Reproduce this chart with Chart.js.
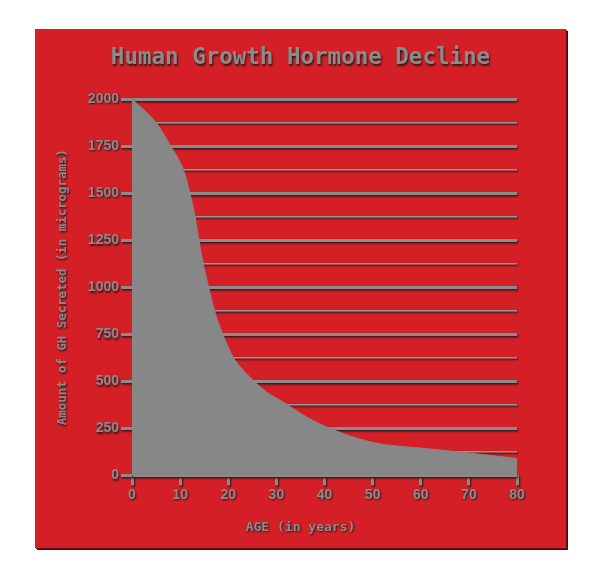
<!DOCTYPE html>
<html>
<head>
<meta charset="utf-8">
<script src="https://cdn.jsdelivr.net/npm/chart.js@4.4.0/dist/chart.umd.min.js"></script>
<style>
  html, body { margin: 0; padding: 0; background: #ffffff; }
  #panel {
    position: absolute; left: 35px; top: 29px; width: 531px; height: 519px;
    background: #d51f26;
    box-shadow: 1px 1px 0 #6a1015, 2px 2px 0 #4a0c10;
  }
  #panel canvas { display: block; }
</style>
</head>
<body>
<div id="panel"><canvas id="c" width="531" height="519"></canvas></div>
<script>
const titleText = "Human Growth Hormone Decline";
const xTitle = "AGE (in years)";
const yTitle = "Amount of GH Secreted (in micrograms)";
const ages = [0, 5.1, 8.1, 10.7, 12.05, 13.1, 13.9, 14.8, 15.9, 17.1, 18.8, 21, 23, 25.2, 28, 31.4, 35.5, 40, 50, 60, 70, 80];
const ghValues = [2000, 1871, 1747, 1622, 1498, 1374, 1250, 1126, 1002, 878, 754, 629, 562, 505, 442, 390, 322, 262, 175, 145, 119, 90];
const xTicks = [0, 10, 20, 30, 40, 50, 60, 70, 80];
const yTicks = [0, 250, 500, 750, 1000, 1250, 1500, 1750, 2000];

const gray = '#8b8b8b';
const points = ages.map((a, i) => ({ x: a, y: ghValues[i] }));

function setShadow(ctx, on) {
  if (on) {
    ctx.shadowColor = 'rgba(35,25,25,0.95)';
    ctx.shadowBlur = 2;
    ctx.shadowOffsetX = 1;
    ctx.shadowOffsetY = 1.5;
  } else {
    ctx.shadowColor = 'rgba(0,0,0,0)';
    ctx.shadowBlur = 0;
    ctx.shadowOffsetX = 0;
    ctx.shadowOffsetY = 0;
  }
}
const shadowPlugin = {
  id: 'shadowPlugin',
  beforeDraw(chart) { setShadow(chart.ctx, true); },
  beforeDatasetsDraw(chart) { setShadow(chart.ctx, false); },
  afterDatasetsDraw(chart) { setShadow(chart.ctx, true); },
  afterDraw(chart) { setShadow(chart.ctx, false); }
};

new Chart(document.getElementById('c'), {
  type: 'line',
  data: {
    datasets: [{
      data: points,
      fill: 'origin',
      backgroundColor: '#878787',
      borderColor: '#878787',
      borderWidth: 1,
      pointRadius: 0,
      cubicInterpolationMode: 'monotone'
    }]
  },
  plugins: [shadowPlugin],
  options: {
    responsive: false,
    animation: false,
    layout: { padding: 0 },
    plugins: {
      legend: { display: false },
      tooltip: { enabled: false },
      title: {
        display: true,
        text: titleText,
        color: gray,
        font: { family: "'DejaVu Sans Mono', monospace", size: 22.5, weight: 'bold' },
        padding: { top: 16, bottom: 27 }
      },
      subtitle: {
        display: true,
        position: 'bottom',
        text: xTitle,
        color: gray,
        font: { family: "'DejaVu Sans Mono', monospace", size: 13, weight: 'bold' },
        padding: { top: 8, bottom: 13 }
      }
    },
    scales: {
      x: {
        type: 'linear',
        min: 0, max: 80,
        afterBuildTicks(scale) { scale.ticks = xTicks.map(v => ({ value: v })); },
        afterFit(scale) { scale.height = 36; },
        grid: {
          display: true,
          drawOnChartArea: false,
          drawTicks: true,
          tickLength: 10,
          tickWidth: 3,
          tickColor: gray
        },
        border: { display: false },
        ticks: {
          color: gray,
          padding: 1,
          maxRotation: 0,
          font: { family: "'Liberation Sans', Arial, sans-serif", size: 14, weight: 'bold' }
        }
      },
      y: {
        min: 0, max: 2000,
        afterBuildTicks(scale) {
          const t = [];
          for (let v = 0; v <= 2000; v += 125) t.push({ value: v });
          scale.ticks = t;
        },
        afterFit(scale) { scale.width = 97; },
        grid: {
          display: true,
          drawTicks: true,
          tickLength: 11,
          color: (c) => (c.tick && c.tick.value % 250 === 0) ? gray : '#949494',
          lineWidth: (c) => (c.tick && c.tick.value % 250 === 0) ? 3 : 1.5,
          tickColor: (c) => (c.tick && c.tick.value % 250 === 0) ? gray : 'rgba(0,0,0,0)',
          tickWidth: 3
        },
        border: { display: false },
        ticks: {
          color: gray,
          padding: 2,
          font: { family: "'Liberation Sans', Arial, sans-serif", size: 14, weight: 'bold' },
          callback: (v) => (yTicks.includes(v) ? String(v) : '')
        },
        title: {
          display: true,
          text: yTitle,
          color: gray,
          font: { family: "'DejaVu Sans Mono', monospace", size: 12.4, weight: 'bold' },
          padding: { top: 20, bottom: 0 }
        }
      },
      yRight: {
        position: 'right',
        display: true,
        afterFit(scale) { scale.width = 49; },
        grid: { display: false, drawTicks: false },
        border: { display: false },
        ticks: { display: false }
      }
    }
  }
});
</script>
</body>
</html>
